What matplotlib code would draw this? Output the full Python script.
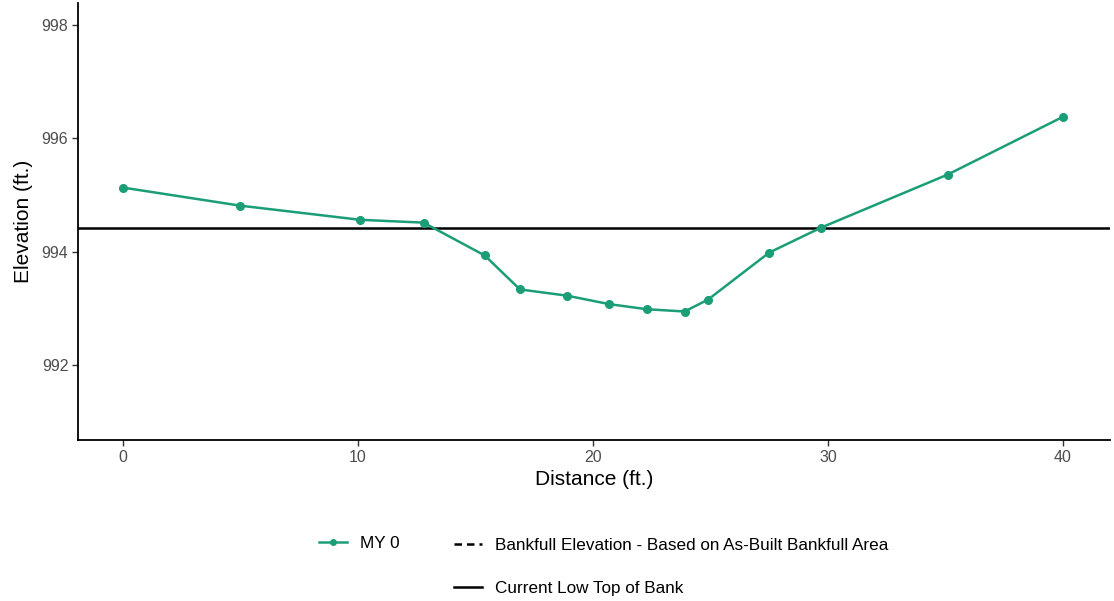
import matplotlib
matplotlib.use("Agg")
import matplotlib.pyplot as plt
from matplotlib.lines import Line2D

plt.rcParams['font.family'] = ['Liberation Sans', 'DejaVu Sans']

distance = [0.0, 5.0, 10.1, 12.8, 15.4, 16.9, 18.9, 20.7, 22.3, 23.9, 24.9, 27.5, 29.7, 35.1, 40.0]
elevation = [995.13, 994.81, 994.56, 994.51, 993.93, 993.33, 993.22, 993.07, 992.98, 992.94, 993.15, 993.98, 994.42, 995.36, 996.38]
low_top_of_bank = 994.41
x_ticks = [0, 10, 20, 30, 40]
y_ticks = [992, 994, 996, 998]

teal = '#1b9e77'

fig = plt.figure(figsize=(11.14, 6.01), dpi=100)
ax = fig.add_axes([78/1114, 1-440/601, (1110-78)/1114, (440-3)/601])

ax.plot(distance, elevation, color=teal, lw=1.8, marker='o', ms=5.5, zorder=3)
ax.axhline(low_top_of_bank, color='black', lw=1.8, zorder=2)

ax.set_xlim(-1.9, 42.0)
ax.set_ylim(990.67, 998.39)
ax.set_xticks(x_ticks)
ax.set_yticks(y_ticks)
for s in ['top', 'right']:
    ax.spines[s].set_visible(False)
for s in ['left', 'bottom']:
    ax.spines[s].set_linewidth(1.3)
    ax.spines[s].set_color('black')
ax.tick_params(axis='both', direction='out', length=4, width=1.0, color='#333333',
               labelcolor='#4d4d4d', labelsize=11.5, pad=3)
ax.set_xlabel('Distance (ft.)', fontsize=15, color='black', labelpad=4)
ax.set_ylabel('Elevation (ft.)', fontsize=15, color='black', labelpad=6)

h1 = [Line2D([], [], color=teal, lw=1.8, marker='o', ms=4)]
leg1 = fig.legend(h1, ['MY 0'], loc='center left', bbox_to_anchor=(304/1114, 1-543/601),
                  frameon=False, fontsize=12.3, handlelength=1.6, handletextpad=0.75)
h2 = [Line2D([], [], color='black', lw=1.8, ls=(0, (3, 2))),
      Line2D([], [], color='black', lw=1.8)]
leg2 = fig.legend(h2, ['Bankfull Elevation - Based on As-Built Bankfull Area', 'Current Low Top of Bank'],
                  loc='upper left', bbox_to_anchor=(439/1114, 1-523/601),
                  frameon=False, fontsize=12.3, handlelength=1.6, handletextpad=0.8,
                  labelspacing=1.6)

fig.savefig('out.png', dpi=100, facecolor='white')
